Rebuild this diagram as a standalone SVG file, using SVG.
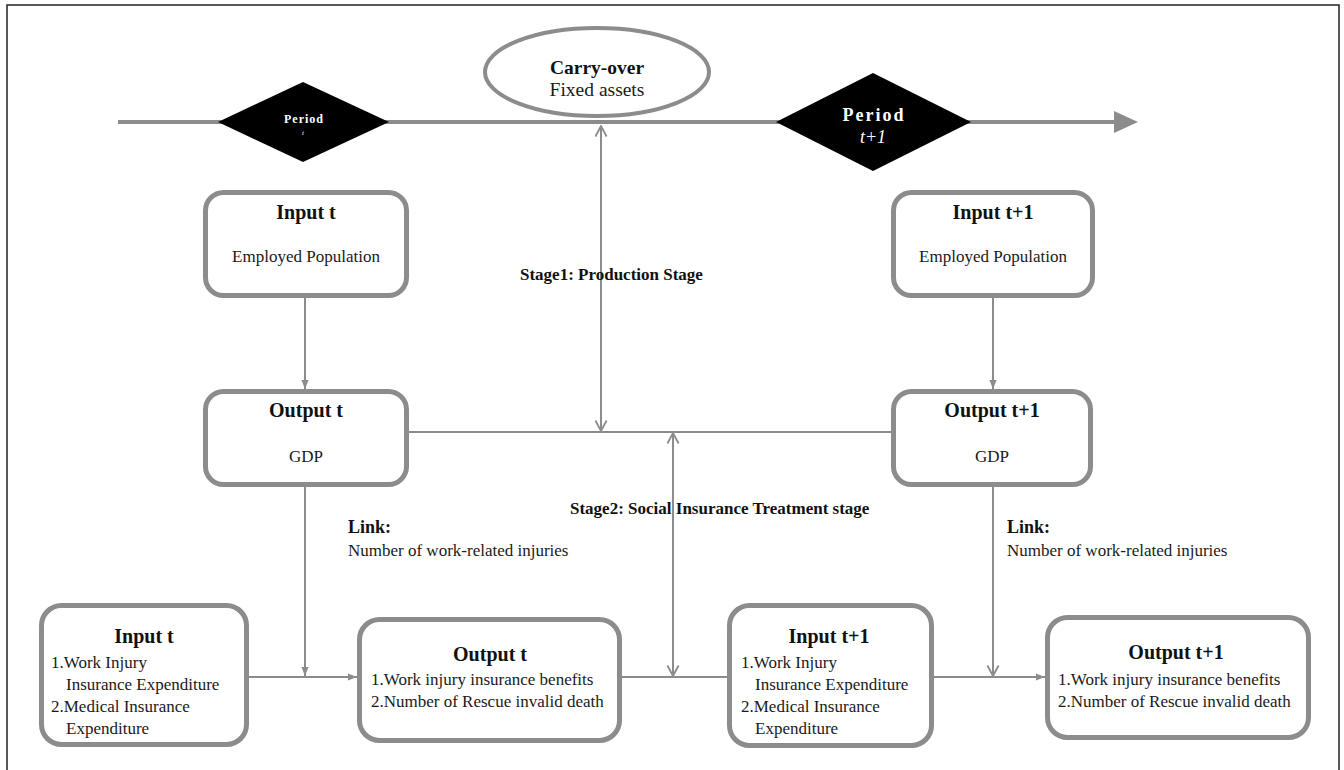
<svg xmlns="http://www.w3.org/2000/svg" width="1344" height="770" viewBox="0 0 1344 770">
<style>
.box{fill:#fff;stroke:#8c8c8c;stroke-width:5}
.conn{fill:none;stroke:#8c8c8c;stroke-width:2}
.tl{fill:none;stroke:#8c8c8c;stroke-width:4}
.t{font-family:"Liberation Serif","Times New Roman",serif;font-weight:bold;font-size:20px;fill:#111;text-anchor:middle}
.b{font-family:"Liberation Serif","Times New Roman",serif;font-size:17px;fill:#1a1a1a}
.bc{text-anchor:middle}
.s{font-family:"Liberation Serif","Times New Roman",serif;font-weight:bold;font-size:17px;fill:#111}
.w{fill:#fff;font-family:"Liberation Serif","Times New Roman",serif;text-anchor:middle}
</style>
<defs>
<marker id="tri" viewBox="0 0 10 10" refX="10" refY="5" markerWidth="9" markerHeight="9" markerUnits="userSpaceOnUse" orient="auto"><path d="M0,1 L10,5 L0,9 z" fill="#8c8c8c"/></marker>
<marker id="vee" viewBox="0 0 10 10" refX="9.5" refY="5" markerWidth="14" markerHeight="14" markerUnits="userSpaceOnUse" orient="auto-start-reverse"><path d="M2,1 L9.5,5 L2,9" fill="none" stroke="#8c8c8c" stroke-width="1.3"/></marker>
</defs>
<rect width="1344" height="770" fill="#fff"/>
<path d="M7,780 V5 H1339 V780" fill="none" stroke="#222" stroke-width="1.5"/>

<g id="connectors">
<line class="tl" x1="118" y1="122" x2="1118" y2="122"/>
<path d="M1138,122 L1114,111 L1114,133 z" fill="#8c8c8c"/>
<line class="conn" x1="601" y1="126" x2="601" y2="431" marker-start="url(#vee)" marker-end="url(#vee)"/>
<line class="conn" x1="409" y1="432" x2="891" y2="432"/>
<line class="conn" x1="673" y1="433" x2="673" y2="676" marker-start="url(#vee)" marker-end="url(#vee)"/>
<line class="conn" x1="305" y1="298" x2="305" y2="389" marker-end="url(#tri)"/>
<line class="conn" x1="993" y1="298" x2="993" y2="389" marker-end="url(#tri)"/>
<line class="conn" x1="305" y1="487" x2="305" y2="676" marker-end="url(#tri)"/>
<line class="conn" x1="993" y1="487" x2="993" y2="676" marker-end="url(#vee)"/>
<line class="conn" x1="249" y1="677" x2="357" y2="677" marker-end="url(#tri)"/>
<line class="conn" x1="622" y1="677" x2="727" y2="677"/>
<line class="conn" x1="934" y1="677" x2="1045" y2="677" marker-end="url(#tri)"/>
</g>

<g id="carry-over">
<ellipse cx="597" cy="72" rx="112" ry="44" fill="#fff" stroke="#8c8c8c" stroke-width="4"/>
<text class="t" x="597" y="74" style="font-size:19.5px">Carry-over</text>
<text class="b bc" x="597" y="96" style="font-size:19.5px">Fixed assets</text>
</g>

<g id="period-t">
<path d="M218,122 L303,82 L389,122 L303,162 z" fill="#000"/>
<text class="w" x="304" y="123" style="font-size:12px;font-weight:bold;letter-spacing:1px">Period</text>
<text class="w" x="303" y="135" style="font-size:7px;font-style:italic">t</text>
</g>

<g id="period-t1">
<path d="M776,122 L873,73 L971,122 L873,171 z" fill="#000"/>
<text class="w" x="874" y="121" style="font-size:18px;font-weight:bold;letter-spacing:2px">Period</text>
<text class="w" x="873" y="143" style="font-size:18px;font-style:italic">t+1</text>
</g>

<g id="input-t-1">
<rect class="box" x="205.5" y="192.5" width="201" height="103" rx="18"/>
<text class="t" x="306" y="219">Input t</text>
<text class="b bc" x="306" y="262">Employed Population</text>
</g>

<g id="output-t-1">
<rect class="box" x="205.5" y="391.5" width="201" height="93" rx="18"/>
<text class="t" x="306" y="417">Output t</text>
<text class="b bc" x="306" y="462">GDP</text>
</g>

<g id="input-t1-1">
<rect class="box" x="893.5" y="192.5" width="199" height="103" rx="18"/>
<text class="t" x="993" y="219">Input t+1</text>
<text class="b bc" x="993" y="262">Employed Population</text>
</g>

<g id="output-t1-1">
<rect class="box" x="893.5" y="391.5" width="197" height="93" rx="18"/>
<text class="t" x="992" y="417">Output t+1</text>
<text class="b bc" x="992" y="462">GDP</text>
</g>

<g id="stage-labels">
<text class="s" x="520" y="280">Stage1: Production Stage</text>
<text class="s" x="570" y="514">Stage2: Social Insurance Treatment stage</text>
</g>

<g id="link-t">
<text class="s" x="348" y="533" style="font-size:18px">Link:</text>
<text class="b" x="348" y="556">Number of work-related injuries</text>
</g>

<g id="link-t1">
<text class="s" x="1007" y="533" style="font-size:18px">Link:</text>
<text class="b" x="1007" y="556">Number of work-related injuries</text>
</g>

<g id="input-t-2">
<rect class="box" x="41.5" y="605.5" width="205" height="139" rx="20"/>
<text class="t" x="144" y="643">Input t</text>
<text class="b" x="51" y="668">1.Work Injury</text>
<text class="b" x="66" y="690">Insurance Expenditure</text>
<text class="b" x="51" y="712">2.Medical Insurance</text>
<text class="b" x="66" y="734">Expenditure</text>
</g>

<g id="output-t-2">
<rect class="box" x="359.5" y="619.5" width="260" height="121" rx="20"/>
<text class="t" x="490" y="661">Output t</text>
<text class="b" x="371" y="685">1.Work injury insurance benefits</text>
<text class="b" x="371" y="707">2.Number of Rescue invalid death</text>
</g>

<g id="input-t1-2">
<rect class="box" x="729.5" y="605.5" width="202" height="140" rx="20"/>
<text class="t" x="829" y="643">Input t+1</text>
<text class="b" x="741" y="668">1.Work Injury</text>
<text class="b" x="755" y="690">Insurance Expenditure</text>
<text class="b" x="741" y="712">2.Medical Insurance</text>
<text class="b" x="755" y="734">Expenditure</text>
</g>

<g id="output-t1-2">
<rect class="box" x="1047.5" y="617.5" width="261" height="120" rx="20"/>
<text class="t" x="1176" y="659">Output t+1</text>
<text class="b" x="1058" y="685">1.Work injury insurance benefits</text>
<text class="b" x="1058" y="707">2.Number of Rescue invalid death</text>
</g>
</svg>
